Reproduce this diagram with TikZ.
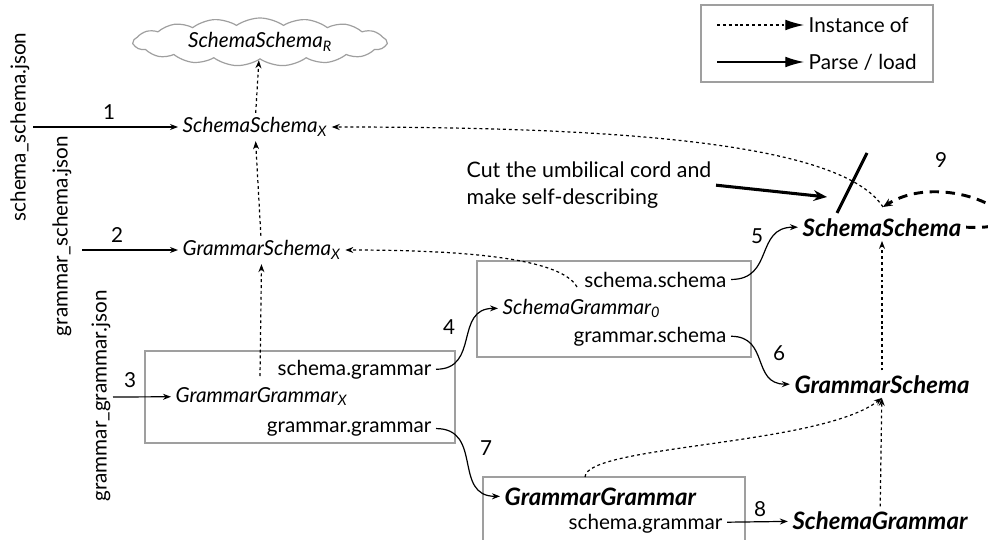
\documentclass[tikz,border=0pt]{standalone}
\usepackage{fontspec}
\setmainfont{Lato}
\usetikzlibrary{arrows.meta, shapes.symbols}

\begin{document}
\begin{tikzpicture}[x=0.75pt, y=-0.75pt,
  font=\fontsize{15.5}{20}\selectfont,
  inst/.style={line width=0.9pt, dash pattern=on 2.2pt off 2.2pt, -{Stealth[length=6pt,width=4.5pt]}},
  parse/.style={line width=0.9pt, -{Stealth[length=6pt,width=4.5pt]}},
  box/.style={draw=gray!75, line width=1.1pt, inner sep=0pt},
  it/.style={font=\fontsize{15.5}{20}\selectfont\itshape},
  bit/.style={font=\fontsize{18}{20}\selectfont\bfseries\itshape},
  num/.style={inner sep=1pt}]
\useasboundingbox (0,0) rectangle (988,539);

% legend
\node (legend) at (817,43.5) [box, minimum width=174pt, minimum height=57.75pt]{};
\coordinate (li1) at (717,25);
\coordinate (li2) at (717,62);
\node (linst) at (804,25) [anchor=west]{Instance of};
\node (lparse) at (804,62) [anchor=west]{Parse / load};
\draw[line width=0.9pt, dash pattern=on 2.2pt off 2.2pt, -{Latex[length=14pt,width=8pt]}] (li1)--(linst);
\draw[line width=0.9pt, -{Latex[length=14pt,width=8pt]}] (li2)--(lparse);

% json files
\node (ssjson) at (20,127) [rotate=90]{schema\_schema.json};
\node (gsjson) at (62,236) [rotate=90]{grammar\_schema.json};
\node (ggjson) at (101,396) [rotate=90]{grammar\_grammar.json};

% bootstrap side
\node (ssR) at (260,42) [cloud, draw=gray!75, line width=0.9pt, cloud puffs=17, cloud puff arc=70, cloud ignores aspect,
  minimum width=190pt, minimum height=36pt, inner sep=0pt, it]{SchemaSchema\textsubscript{R}};
\node (ssX) at (178,127) [anchor=west, it]{SchemaSchema\textsubscript{X}};
\node (gsX) at (178,250) [anchor=west, it]{GrammarSchema\textsubscript{X}};

\node (ggXbox) at (300,397) [box, minimum width=232.5pt, minimum height=69pt]{};
\node (ggXsg) at (436,375) [anchor=base east]{schema.grammar};
\node (ggX) at (171,402) [anchor=base west, it]{GrammarGrammar\textsubscript{X}};
\node (ggXgg) at (436,432) [anchor=base east]{grammar.grammar};

\node (sg0box) at (614,309) [box, minimum width=205.5pt, minimum height=72pt]{};
\node (sg0ss) at (731,287) [anchor=base east]{schema.schema};
\node (sg0) at (498,314) [anchor=base west, it]{SchemaGrammar\textsubscript{0}};
\node (sg0gs) at (731,342) [anchor=base east]{grammar.schema};

\node (ggbox) at (614,520) [box, minimum width=196.5pt, minimum height=64.5pt]{};
\node (gg) at (500,505) [anchor=base west, bit]{GrammarGrammar};
\node (ggsg) at (727,529) [anchor=base east]{schema.grammar};

% final
\node (ss) at (882,236) [anchor=base, bit]{SchemaSchema};
\node (gs) at (882,393) [anchor=base, bit]{GrammarSchema};
\node (sg) at (880,529) [anchor=base, bit]{SchemaGrammar};

% numbers
\node (n1) at (109,112) [num]{1};
\node (n2) at (117,235) [num]{2};
\node (n3) at (130,380) [num]{3};
\node (n4) at (449,327) [num]{4};
\node (n5) at (757,236) [num]{5};
\node (n6) at (779,353) [num]{6};
\node (n7) at (486,448) [num]{7};
\node (n8) at (760,509) [num]{8};
\node (n9) at (941,160) [num]{9};

\node (cut) at (462,157) [anchor=north west, align=left, font=\fontsize{16}{20.5}\selectfont]{Cut the umbilical cord and\\make self-describing};

\coordinate (j1) at (33,127);
\coordinate (j2) at (82,250);
\coordinate (j3) at (113,397);
\coordinate (ggXdot) at (260,376);
\coordinate (sg0dot) at (577,287);
\coordinate (ggdot) at (585,477);
\coordinate (sstop) at (883,207);
\coordinate (cutend) at (827,197);
\coordinate (cutA) at (837,213);
\coordinate (cutB) at (867,153);

% parse / load
\draw[parse] (j1)--(ssX);
\draw[parse] (j2)--(gsX);
\draw[parse] (j3)--(ggX);
\draw[parse] (ggXsg.east) to[out=0, in=180, looseness=1.3] (sg0.west);
\draw[parse] (ggXgg.east) to[out=0, in=180, looseness=1.3] (gg.west);
\draw[parse] (sg0ss.east) to[out=0, in=180, looseness=1.3] (ss.west);
\draw[parse] (sg0gs.east) to[out=0, in=180, looseness=1.3] (gs.west);
\draw[parse] (ggsg)--(sg);

% instance of
\draw[inst] (ssX)--(ssR);
\draw[inst] (gsX)--(ssX);
\draw[inst] (ggXdot)--(gsX);
\draw[inst] (sg0dot) .. controls (560,256) and (450,250) .. (gsX.east);
\draw[inst] (sstop) .. controls (840,140) and (600,127) .. (ssX.east);
\draw[inst] (gs)--(ss);
\draw[inst] (sg)--(gs);
\draw[inst] (ggdot) .. controls (586,445) and (820,446) .. (gs.south);

% cut the cord
\draw[line width=2.3pt, -{Stealth[length=10pt,width=8pt]}] (cut.east)--(cutend);
\draw[line width=2.3pt] (cutA)--(cutB);
\draw[line width=2.2pt, dash pattern=on 7pt off 5pt, -{Stealth[length=7pt,width=6pt]}] (ss.east) .. controls (1060,232) and (950,165) .. (sstop);
\end{tikzpicture}
\end{document}
